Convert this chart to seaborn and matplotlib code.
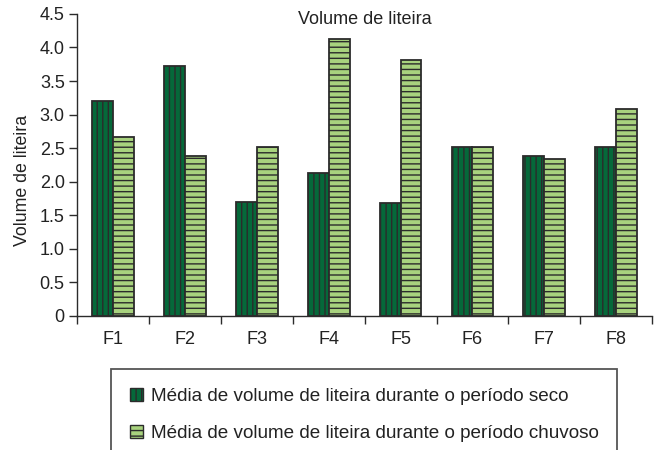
import matplotlib
matplotlib.use("Agg")
import matplotlib.pyplot as plt
import matplotlib.patches as mpatches
import numpy as np
import pandas as pd
import seaborn as sns

# data
parcelas = ["F1", "F2", "F3", "F4", "F5", "F6", "F7", "F8"]
seco = [3.20, 3.72, 1.70, 2.13, 1.69, 2.52, 2.39, 2.52]
chuvoso = [2.67, 2.39, 2.52, 4.12, 3.82, 2.52, 2.34, 3.08]
label_seco = "Média de volume de liteira durante o período seco"
label_chuvoso = "Média de volume de liteira durante o período chuvoso"
y_ticks = [0, 0.5, 1.0, 1.5, 2.0, 2.5, 3.0, 3.5, 4.0, 4.5]
y_tick_labels = ["0", "0.5", "1.0", "1.5", "2.0", "2.5", "3.0", "3.5", "4.0", "4.5"]

df = pd.DataFrame({
    "parcela": parcelas * 2,
    "volume": seco + chuvoso,
    "periodo": [label_seco] * len(seco) + [label_chuvoso] * len(chuvoso),
})

sns.set_theme(style="white")
plt.rcParams["font.family"] = ["Liberation Sans", "DejaVu Sans"]
plt.rcParams["hatch.color"] = "#2b2b2b"
plt.rcParams["hatch.linewidth"] = 1.0

dark = "#05693a"
light = "#a8d27e"
edge = "#2b2b2b"
txt = "#222222"

fig = plt.figure(figsize=(6.6, 4.5), dpi=100)
ax = fig.add_axes([0.117, 0.298, 0.871, 0.671])

sns.barplot(
    data=df, x="parcela", y="volume", hue="periodo",
    palette=[dark, light], width=0.58, edgecolor=edge, linewidth=1.3,
    legend=False, ax=ax, saturation=1,
)

hatches = ["|||", "---"]
for cont, h in zip(ax.containers, hatches):
    for bar in cont:
        bar.set_hatch(h)

ax.set_xlim(-0.5, len(parcelas) - 0.5)
ax.set_ylim(0, 4.5)
ax.set_yticks(y_ticks)
ax.set_yticklabels(y_tick_labels)

# ticks between categories, labels at centres
ax.set_xticks(np.arange(len(parcelas) + 1) - 0.5)
ax.set_xticklabels([])
ax.set_xticks(np.arange(len(parcelas)), minor=True)
ax.set_xticklabels(parcelas, minor=True)
ax.tick_params(axis="x", which="major", direction="out", length=6, width=1, color=edge, bottom=True)
ax.tick_params(axis="x", which="minor", length=0, pad=11, labelsize=13, labelcolor=txt)
ax.tick_params(axis="y", direction="out", length=6, width=1, color=edge, left=True,
               labelsize=13, labelcolor=txt, pad=3)

ax.set_xlabel("")
ax.set_ylabel("Volume de liteira", fontsize=12.8, color=txt)
ax.yaxis.set_label_coords(-0.08, 0.447)
sns.despine(ax=ax)
for s in ["left", "bottom"]:
    ax.spines[s].set_color(edge)
    ax.spines[s].set_linewidth(1)

ax.text(0.5, 0.98, "Volume de liteira", transform=ax.transAxes,
        ha="center", va="center", fontsize=13, color=txt)

handles = [
    mpatches.Patch(facecolor=dark, edgecolor=edge, hatch="|||", label=label_seco),
    mpatches.Patch(facecolor=light, edgecolor=edge, hatch="---", label=label_chuvoso),
]
leg = fig.legend(
    handles=handles, loc="upper left", bbox_to_anchor=(111 / 660, 1 - 369 / 450),
    frameon=True, fancybox=False, fontsize=13.6, handlelength=0.7, handleheight=0.7,
    handletextpad=0.4, labelspacing=1.06, borderpad=1.0, borderaxespad=0,
)
leg.get_frame().set_edgecolor(edge)
leg.get_frame().set_linewidth(1.3)
for t in leg.get_texts():
    t.set_color(txt)

fig.savefig("out.png", dpi=100)
